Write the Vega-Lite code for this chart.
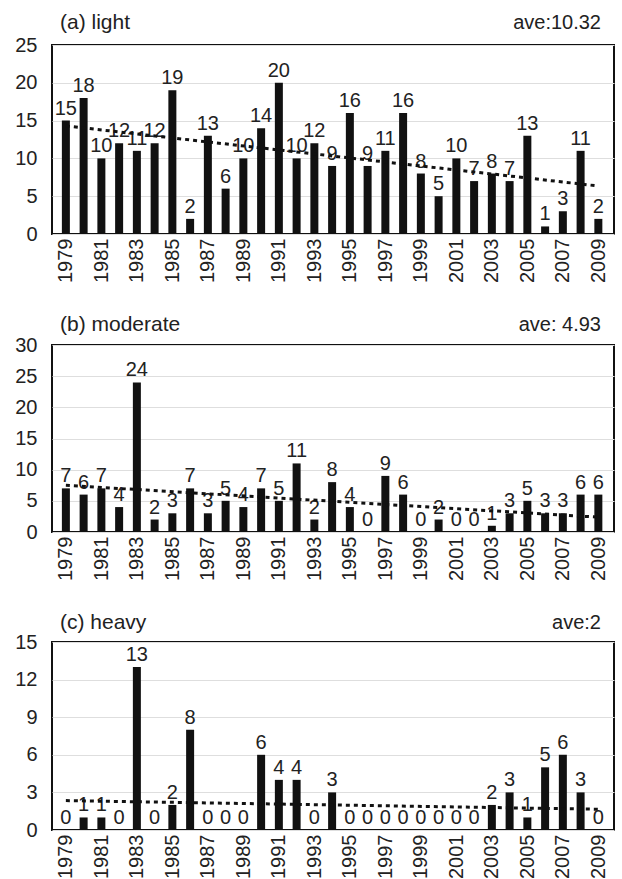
{
  "$schema": "https://vega.github.io/schema/vega-lite/v6.json",
  "padding": {"left": 13, "top": 11, "right": 7, "bottom": 2},
  "background": "white",
  "config": {
    "font": "Liberation Sans",
    "view": {"stroke": "#111", "strokeWidth": 2},
    "axis": {"labelFont": "Liberation Sans", "labelFontSize": 20, "labelColor": "#222", "ticks": false, "domain": false, "title": null},
    "axisY": {"grid": true, "gridColor": "#dedede", "gridWidth": 1, "labelPadding": 15},
    "axisX": {"grid": false, "labelPadding": 4, "labelAngle": 270},
    "text": {"font": "Liberation Sans", "fontSize": 20, "color": "#222"}
  },
  "spacing": 29,
  "data": {"values": [
    {"year": 1979, "light": 15, "moderate": 7, "heavy": 0},
    {"year": 1980, "light": 18, "moderate": 6, "heavy": 1},
    {"year": 1981, "light": 10, "moderate": 7, "heavy": 1},
    {"year": 1982, "light": 12, "moderate": 4, "heavy": 0},
    {"year": 1983, "light": 11, "moderate": 24, "heavy": 13},
    {"year": 1984, "light": 12, "moderate": 2, "heavy": 0},
    {"year": 1985, "light": 19, "moderate": 3, "heavy": 2},
    {"year": 1986, "light": 2, "moderate": 7, "heavy": 8},
    {"year": 1987, "light": 13, "moderate": 3, "heavy": 0},
    {"year": 1988, "light": 6, "moderate": 5, "heavy": 0},
    {"year": 1989, "light": 10, "moderate": 4, "heavy": 0},
    {"year": 1990, "light": 14, "moderate": 7, "heavy": 6},
    {"year": 1991, "light": 20, "moderate": 5, "heavy": 4},
    {"year": 1992, "light": 10, "moderate": 11, "heavy": 4},
    {"year": 1993, "light": 12, "moderate": 2, "heavy": 0},
    {"year": 1994, "light": 9, "moderate": 8, "heavy": 3},
    {"year": 1995, "light": 16, "moderate": 4, "heavy": 0},
    {"year": 1996, "light": 9, "moderate": 0, "heavy": 0},
    {"year": 1997, "light": 11, "moderate": 9, "heavy": 0},
    {"year": 1998, "light": 16, "moderate": 6, "heavy": 0},
    {"year": 1999, "light": 8, "moderate": 0, "heavy": 0},
    {"year": 2000, "light": 5, "moderate": 2, "heavy": 0},
    {"year": 2001, "light": 10, "moderate": 0, "heavy": 0},
    {"year": 2002, "light": 7, "moderate": 0, "heavy": 0},
    {"year": 2003, "light": 8, "moderate": 1, "heavy": 2},
    {"year": 2004, "light": 7, "moderate": 3, "heavy": 3},
    {"year": 2005, "light": 13, "moderate": 5, "heavy": 1},
    {"year": 2006, "light": 1, "moderate": 3, "heavy": 5},
    {"year": 2007, "light": 3, "moderate": 3, "heavy": 6},
    {"year": 2008, "light": 11, "moderate": 6, "heavy": 3},
    {"year": 2009, "light": 2, "moderate": 6, "heavy": 0}
  ]},
  "vconcat": [
    {
      "width": 562, "height": 189,
      "encoding": {
        "x": {"field": "year", "type": "quantitative", "scale": {"domain": [1978.5, 2009.6], "nice": false, "zero": false},
              "axis": {"values": [1979,1981,1983,1985,1987,1989,1991,1993,1995,1997,1999,2001,2003,2005,2007,2009], "format": "d"}},
        "y": {"field": "light", "type": "quantitative", "scale": {"domain": [0, 25], "nice": false},
              "axis": {"values": [0,5,10,15,20,25]}}
      },
      "layer": [
        {"mark": {"type": "bar", "size": 8, "color": "#111"}},
        {"mark": {"type": "text", "baseline": "bottom", "dy": -2}, "encoding": {"text": {"field": "light"}}},
        {"transform": [{"regression": "light", "on": "year"}],
         "mark": {"type": "line", "color": "#111", "strokeWidth": 3, "strokeDash": [4, 4]}},
        {"data": {"values": [{"label": "ave:10.32", "x": 2009.6, "y": 25}]},
         "mark": {"type": "text", "align": "right", "baseline": "middle", "dx": -8, "dy": -22},
         "encoding": {"x": {"field": "x", "type": "quantitative"}, "y": {"field": "y", "type": "quantitative"}, "text": {"field": "label"}}},
        {"data": {"values": [{"label": "(a) light", "x": 1978.5, "y": 25}]},
         "mark": {"type": "text", "align": "left", "baseline": "middle", "dx": 3, "dy": -22, "fontSize": 21},
         "encoding": {"x": {"field": "x", "type": "quantitative"}, "y": {"field": "y", "type": "quantitative"}, "text": {"field": "label"}}}
      ]
    },
    {
      "width": 562, "height": 187,
      "encoding": {
        "x": {"field": "year", "type": "quantitative", "scale": {"domain": [1978.5, 2009.6], "nice": false, "zero": false},
              "axis": {"values": [1979,1981,1983,1985,1987,1989,1991,1993,1995,1997,1999,2001,2003,2005,2007,2009], "format": "d"}},
        "y": {"field": "moderate", "type": "quantitative", "scale": {"domain": [0, 30], "nice": false},
              "axis": {"values": [0,5,10,15,20,25,30]}}
      },
      "layer": [
        {"mark": {"type": "bar", "size": 8, "color": "#111"}},
        {"mark": {"type": "text", "baseline": "bottom", "dy": -2}, "encoding": {"text": {"field": "moderate"}}},
        {"transform": [{"regression": "moderate", "on": "year"}],
         "mark": {"type": "line", "color": "#111", "strokeWidth": 3, "strokeDash": [4, 4]}},
        {"data": {"values": [{"label": "ave: 4.93", "x": 2009.6, "y": 30}]},
         "mark": {"type": "text", "align": "right", "baseline": "middle", "dx": -8, "dy": -20},
         "encoding": {"x": {"field": "x", "type": "quantitative"}, "y": {"field": "y", "type": "quantitative"}, "text": {"field": "label"}}},
        {"data": {"values": [{"label": "(b) moderate", "x": 1978.5, "y": 30}]},
         "mark": {"type": "text", "align": "left", "baseline": "middle", "dx": 3, "dy": -20, "fontSize": 21},
         "encoding": {"x": {"field": "x", "type": "quantitative"}, "y": {"field": "y", "type": "quantitative"}, "text": {"field": "label"}}}
      ]
    },
    {
      "width": 562, "height": 188,
      "encoding": {
        "x": {"field": "year", "type": "quantitative", "scale": {"domain": [1978.5, 2009.6], "nice": false, "zero": false},
              "axis": {"values": [1979,1981,1983,1985,1987,1989,1991,1993,1995,1997,1999,2001,2003,2005,2007,2009], "format": "d"}},
        "y": {"field": "heavy", "type": "quantitative", "scale": {"domain": [0, 15], "nice": false},
              "axis": {"values": [0,3,6,9,12,15]}}
      },
      "layer": [
        {"mark": {"type": "bar", "size": 8, "color": "#111"}},
        {"mark": {"type": "text", "baseline": "bottom", "dy": -2}, "encoding": {"text": {"field": "heavy"}}},
        {"transform": [{"regression": "heavy", "on": "year"}],
         "mark": {"type": "line", "color": "#111", "strokeWidth": 3, "strokeDash": [4, 4]}},
        {"data": {"values": [{"label": "ave:2", "x": 2009.6, "y": 15}]},
         "mark": {"type": "text", "align": "right", "baseline": "middle", "dx": -8, "dy": -19},
         "encoding": {"x": {"field": "x", "type": "quantitative"}, "y": {"field": "y", "type": "quantitative"}, "text": {"field": "label"}}},
        {"data": {"values": [{"label": "(c) heavy", "x": 1978.5, "y": 15}]},
         "mark": {"type": "text", "align": "left", "baseline": "middle", "dx": 3, "dy": -19, "fontSize": 21},
         "encoding": {"x": {"field": "x", "type": "quantitative"}, "y": {"field": "y", "type": "quantitative"}, "text": {"field": "label"}}}
      ]
    }
  ]
}
